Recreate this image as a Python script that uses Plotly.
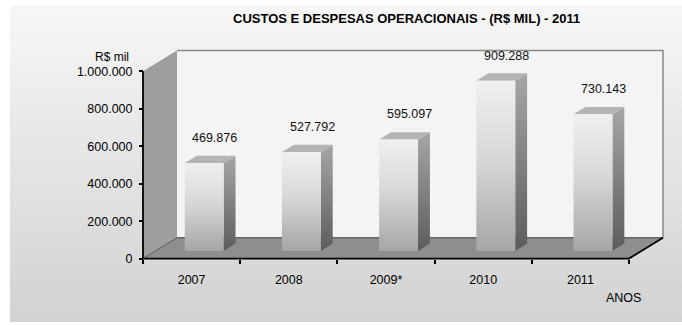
import plotly.graph_objects as go

# ---- data ----
categories = ["2007", "2008", "2009*", "2010", "2011"]
values = [469876, 527792, 595097, 909288, 730143]
y_ticks = [0, 200000, 400000, 600000, 800000, 1000000]
title_text = "CUSTOS E DESPESAS OPERACIONAIS - (R$ MIL) - 2011"
y_title = "R$ mil"
x_title = "ANOS"

# ---- canvas / layout constants (pixels) ----
W, H = 682, 325
X0_PX, X1_PX = 143, 629          # front edge of the floor
Y0_PX, YMAX_PX = 261, 72         # value 0 and value 1.000.000 on the front plane
YMAX = 1000000
PX_PER_CAT = (X1_PX - X0_PX) / len(categories)
PX_PER_VAL = (Y0_PX - YMAX_PX) / YMAX
DEPTH_PX = (34, 21)              # projection of the full depth (right, up)
DX = DEPTH_PX[0] / PX_PER_CAT
DY = DEPTH_PX[1] / PX_PER_VAL

# plot area in pixels (slightly padded so edge lines are not clipped)
PL, PR = X0_PX - 4, X1_PX + DEPTH_PX[0] + 4
PT, PB = YMAX_PX - DEPTH_PX[1] - 4, Y0_PX + 4


def px_to_x(px):
    return -0.5 + (px - X0_PX) / PX_PER_CAT


def px_to_y(py):
    return (Y0_PX - py) / PX_PER_VAL


XMIN, XMAX = -0.5, len(categories) - 0.5
BAR_HALF = 0.2
D_FRONT, D_DEPTH = 0.37, 0.35


def proj(x, v, d):
    return x + d * DX, v + d * DY


def poly(points):
    xs, ys = zip(*[proj(*p) for p in points])
    return list(xs) + [xs[0]], list(ys) + [ys[0]]


fig = go.Figure()

# ---- figure background (full-canvas subplot) ----
fig.add_trace(go.Scatter(
    x=[10, W, W, 10, 10], y=[0, 0, H - 5, H - 5, 0],
    mode="lines", line=dict(width=0), fill="toself",
    fillgradient=dict(type="vertical", colorscale=[[0, "#d2d2d2"], [1, "#f7f7f7"]]),
    hoverinfo="skip", showlegend=False, xaxis="x", yaxis="y",
))

main = dict(xaxis="x2", yaxis="y2", hoverinfo="skip", showlegend=False)


def face(points, color=None, gradient=None):
    xs, ys = poly(points)
    kw = dict(x=xs, y=ys, mode="lines", line=dict(width=0), fill="toself", **main)
    if gradient:
        kw["fillgradient"] = dict(type="vertical", colorscale=gradient)
    else:
        kw["fillcolor"] = color
    fig.add_trace(go.Scatter(**kw))


def edge(points, color, width):
    xs, ys = zip(*[proj(*p) for p in points])
    fig.add_trace(go.Scatter(x=list(xs), y=list(ys), mode="lines",
                             line=dict(color=color, width=width), **main))


# walls and floor
face([(XMIN, 0, 1), (XMAX, 0, 1), (XMAX, YMAX, 1), (XMIN, YMAX, 1)], "#f4f4f4")
face([(XMIN, 0, 0), (XMIN, 0, 1), (XMIN, YMAX, 1), (XMIN, YMAX, 0)], "#9e9e9e")
face([(XMIN, 0, 0), (XMAX, 0, 0), (XMAX, 0, 1), (XMIN, 0, 1)], "#8e8e8e")
edge([(XMIN, YMAX, 1), (XMAX, YMAX, 1), (XMAX, 0, 1)], "#8a8a8a", 1.5)
edge([(XMIN, 0, 1), (XMAX, 0, 1)], "#3c3c3c", 1)
edge([(XMIN, 0, 0), (XMIN, 0, 1)], "#5a5a5a", 1)

# 3D bars: side, top, front
for i, v in enumerate(values):
    l, r = i - BAR_HALF, i + BAR_HALF
    d0, d1 = D_FRONT, D_FRONT + D_DEPTH
    face([(r, 0, d0), (r, 0, d1), (r, v, d1), (r, v, d0)],
         gradient=[[0, "#5c5c5c"], [1, "#a6a6a6"]])
    face([(l, v, d0), (r, v, d0), (r, v, d1), (l, v, d1)], "#b4b4b4")
    face([(l, 0, d0), (r, 0, d0), (r, v, d0), (l, v, d0)],
         gradient=[[0, "#a6a6a6"], [0.55, "#d8d8d8"], [1, "#f0f0f0"]])

# front axis lines
edge([(XMIN, YMAX, 0), (XMIN, 0, 0), (XMAX, 0, 0), (XMAX, 0, 1)], "#000000", 1.8)

font = dict(family="Arial, Liberation Sans, sans-serif", size=12.5, color="#000000")

# value labels
for i, v in enumerate(values):
    fx, fy = proj(i, v, D_FRONT)
    fig.add_annotation(x=fx + 0.11, y=fy, xref="x2", yref="y2",
                       xanchor="center", yanchor="middle",
                       text=f"{v:,}".replace(",", "."), showarrow=False,
                       yshift=25, font=dict(font, color="#111111"))

fig.update_layout(
    width=W, height=H,
    margin=dict(l=0, r=0, t=0, b=0),
    paper_bgcolor="#ffffff", plot_bgcolor="rgba(0,0,0,0)",
    separators=",.",
    font=font,
    xaxis=dict(domain=[0, 1], range=[0, W], visible=False, fixedrange=True),
    yaxis=dict(domain=[0, 1], range=[0, H], visible=False, fixedrange=True),
    xaxis2=dict(
        domain=[PL / W, PR / W], range=[px_to_x(PL), px_to_x(PR)],
        anchor="free", position=(H - Y0_PX) / H,
        tickmode="array", tickvals=list(range(len(categories))), ticktext=categories,
        ticks="", showgrid=False, zeroline=False, showline=False,
        ticklabelstandoff=12,
        minor=dict(tickmode="array", tickvals=[k - 0.5 for k in range(len(categories) + 1)],
                   ticks="outside", ticklen=4, tickcolor="#000000", tickwidth=1.5,
                   showgrid=False),
        tickfont=font,
    ),
    yaxis2=dict(
        domain=[(H - PB) / H, (H - PT) / H], range=[px_to_y(PB), px_to_y(PT)],
        anchor="free", position=X0_PX / W,
        tickmode="array", tickvals=y_ticks, tickformat=",.0f",
        ticks="outside", ticklen=4, tickcolor="#000000", tickwidth=1.5,
        showgrid=False, zeroline=False, showline=False,
        ticklabelstandoff=4, tickfont=font,
    ),
)

fig.add_annotation(xref="paper", yref="paper", x=406 / W, y=1 - 19 / H,
                   xanchor="center", yanchor="middle",
                   text=f"<b>{title_text}</b>", showarrow=False,
                   font=dict(family=font["family"], size=13, color="#000000"))
fig.add_annotation(xref="paper", yref="paper", x=131 / W, y=1 - 58 / H,
                   xanchor="right", yanchor="middle",
                   text=y_title, showarrow=False, font=dict(font, size=12))
fig.add_annotation(xref="paper", yref="paper", x=623 / W, y=1 - 301 / H,
                   xanchor="center", yanchor="middle",
                   text=x_title, showarrow=False, font=font)

fig.write_html("out.html")
